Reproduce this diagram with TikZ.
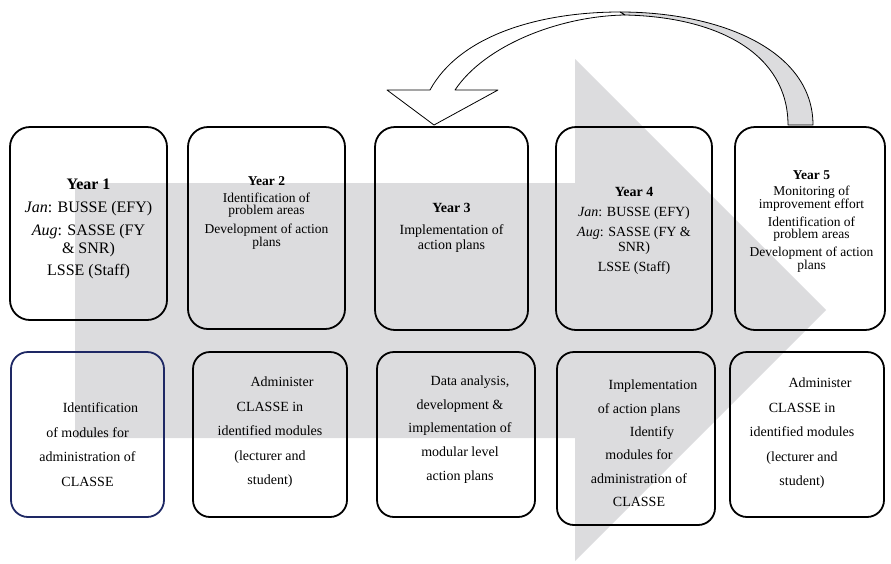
\documentclass[tikz,border=0pt]{standalone}
\usepackage{fontspec}
\setmainfont{Liberation Serif}
\definecolor{arrowgray}{RGB}{220,220,222}
\definecolor{navyline}{RGB}{30,40,100}
\begin{document}
\begin{tikzpicture}[x=1pt,y=-1pt,
  topbox/.style={draw, line width=1.8pt, rounded corners=20pt, inner sep=0pt, outer sep=0pt},
  botbox/.style={draw, line width=1.8pt, rounded corners=17pt, inner sep=0pt, outer sep=0pt},
  toptext/.style={align=center, inner sep=0pt},
  bottext/.style={align=center, inner sep=0pt, font=\fontsize{14}{24.5}\selectfont},
  curvearrow/.style={draw=black, line width=0.8pt, line join=round}]
\useasboundingbox (0,0) rectangle (891,563);

% big gray arrow
\fill[arrowgray] (75,183) -- (575,183) -- (575,59) -- (826,310) -- (575,561) -- (575,438) -- (75,438) -- cycle;

% top boxes
\node[topbox, minimum width=157pt, minimum height=193pt] (t1) at (88.5,223.5) {};
\node[topbox, minimum width=157pt, minimum height=202pt] (t2) at (266.5,228) {};
\node[topbox, minimum width=153pt, minimum height=203pt] (t3) at (451.5,228.5) {};
\node[topbox, minimum width=156pt, minimum height=203pt] (t4) at (634,228.5) {};
\node[topbox, minimum width=150pt, minimum height=203pt] (t5) at (810,228.5) {};

% bottom boxes
\node[botbox, draw=navyline, minimum width=153pt, minimum height=165pt] (c1) at (87.5,434.5) {};
\node[botbox, minimum width=154pt, minimum height=165pt] (c2) at (270,434.5) {};
\node[botbox, minimum width=158pt, minimum height=165pt] (c3) at (456,434.5) {};
\node[botbox, minimum width=158pt, minimum height=173pt] (c4) at (636,438.5) {};
\node[botbox, minimum width=154pt, minimum height=165pt] (c5) at (807,434.5) {};

% top texts
\node[toptext, font=\fontsize{16}{18}\selectfont] (x1) at (88.5,229)
  {\textbf{Year 1}\\[5pt] \textit{Jan}: BUSSE (EFY)\\[5pt] \textit{Aug}: SASSE (FY\\ \& SNR)\\[4pt] LSSE (Staff)};
\node[toptext, font=\fontsize{13.5}{12}\selectfont] (x2) at (266.5,213)
  {\textbf{Year 2}\\[5pt] Identification of\\ problem areas\\[5pt] Development of action\\ plans};
\node[toptext, font=\fontsize{14}{15}\selectfont] (x3) at (451.5,228)
  {\textbf{Year 3}\\[7pt] Implementation of\\ action plans};
\node[toptext, font=\fontsize{14}{15}\selectfont] (x4) at (634,230.5)
  {\textbf{Year 4}\\[5pt] \textit{Jan}: BUSSE (EFY)\\[5pt] \textit{Aug}: SASSE (FY \&\\ SNR)\\[5pt] LSSE (Staff)};
\node[toptext, font=\fontsize{13.5}{12.5}\selectfont] (x5) at (811.5,221.5)
  {\textbf{Year 5}\\[3.5pt] Monitoring of\\ improvement effort\\[5.5pt] Identification of\\ problem areas\\[5.5pt] Development of action\\ plans};

% bottom texts
\node[bottext] (y1) at (87.5,444.5)
  {\hspace*{26pt}Identification\\ of modules for\\ administration of\\ CLASSE};
\node[bottext] (y2) at (270,432.5)
  {\hspace*{24pt}Administer\\ CLASSE in\hspace*{8pt}\\ identified modules\\ (lecturer and\\ student)};
\node[bottext, font=\fontsize{14}{23.7}\selectfont] (y3) at (460,429.5)
  {\hspace*{20pt}Data analysis,\\ development \&\hspace*{10pt}\\ implementation of\\ modular level\\ action plans};
\node[bottext, font=\fontsize{14}{23.4}\selectfont] (y4) at (639,443.5)
  {\hspace*{28pt}Implementation\\ of action plans\hspace*{12pt}\\ \hspace*{26pt}Identify\\ modules for\hspace*{10pt}\\ administration of\\ CLASSE};
\node[bottext] (y5) at (802,433.5)
  {\hspace*{36pt}Administer\\ CLASSE in\hspace*{6pt}\\ identified modules\\ (lecturer and\\ student)};

% curved feedback arrow from Year 5 to Year 3
\coordinate (tip) at (434,125);
\coordinate (top) at (620,12);
\coordinate (topin) at (625,15);
\draw[curvearrow, fill=arrowgray] (top) .. controls (720,12) and (813,50) .. (813,125)
  -- (788,125) .. controls (788,55) and (720,17) .. (topin) -- cycle;
\draw[curvearrow, fill=white] (top) .. controls (540,12) and (460,35) .. (430,90)
  -- (387,90) -- (tip) -- (498,90) -- (455,90)
  .. controls (485,45) and (560,16) .. (topin) -- cycle;
\end{tikzpicture}
\end{document}
